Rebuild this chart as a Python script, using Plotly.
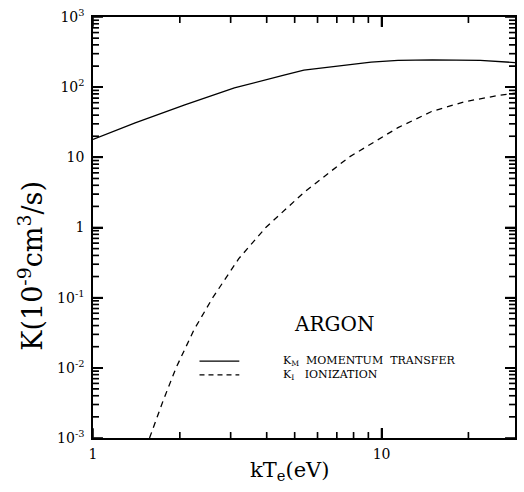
import math
import plotly.graph_objects as go

# Momentum transfer rate coefficient K_M (10^-9 cm^3/s) vs kTe (eV)
km_x = [1.0, 1.4, 2.08, 3.09, 4.59, 5.38, 9.2, 11.4, 15.0, 22.0, 29.0]
km_y = [18, 31, 56, 98, 148, 175, 228, 241, 245, 241, 224]

# Ionization rate coefficient K_I
ki_x = [1.57, 1.75, 1.94, 2.24, 2.60, 3.2, 3.97, 5.4, 7.7, 11.4, 14.9, 19.4, 25.3, 29.0]
ki_y = [0.001, 0.0034, 0.01, 0.035, 0.1, 0.36, 1.0, 3.2, 10, 26.5, 45, 62, 76, 82]

y_tickvals = [1e-3, 1e-2, 1e-1, 1, 10, 100, 1000]
y_ticktext = ["10<sup>-3</sup>", "10<sup>-2</sup>", "10<sup>-1</sup>", "1", "10",
              "10<sup>2</sup>", "10<sup>3</sup>"]
y_minor = [m * 10.0 ** e for e in range(-3, 3) for m in range(2, 10)]
x_tickvals = [1, 10]
x_ticktext = ["1", "10"]
x_minor = [2, 3, 4, 5, 6, 7, 8, 9, 20]

SERIF = "DejaVu Serif"
NB = "\u00a0"
XR = [0, 1.4625]
YR = [-3, 3]

L, R, T, B = 93, 517, 11, 438
W, H = R - L, B - T

fig = go.Figure()
fig.add_trace(go.Scatter(x=km_x, y=km_y, mode="lines", line=dict(color="black", width=1.3),
                         showlegend=False, name="K_M momentum transfer"))
fig.add_trace(go.Scatter(x=ki_x, y=ki_y, mode="lines",
                         line=dict(color="black", width=1.3, dash="6px,5px"),
                         showlegend=False, name="K_I ionization"))

# Inside tick marks on all four sides, built from the axis scales (log decades per pixel)
xmin, xmax = 10 ** XR[0], 10 ** XR[1]
ymin, ymax = 10 ** YR[0], 10 ** YR[1]
ydec_per_px = (YR[1] - YR[0]) / H
xdec_per_px = (XR[1] - XR[0]) / W
tx, ty = [], []
for vals, ln in ((x_tickvals, 10), (x_minor, 6)):
    for v in vals:
        k = 10 ** (ln * ydec_per_px)
        tx += [v, v, None, v, v, None]
        ty += [ymin, ymin * k, None, ymax, ymax / k, None]
for vals, ln in ((y_tickvals, 10), (y_minor, 6)):
    for v in vals:
        k = 10 ** (ln * xdec_per_px)
        tx += [xmin, xmin * k, None, xmax, xmax / k, None]
        ty += [v, v, None, v, v, None]
fig.add_trace(go.Scatter(x=tx, y=ty, mode="lines", line=dict(color="#111111", width=1.7),
                         connectgaps=False, showlegend=False, hoverinfo="skip"))

axis_common = dict(showgrid=False, zeroline=False, showline=True, linecolor="black",
                   linewidth=1.5, mirror="allticks", ticks="inside", ticklen=10,
                   tickwidth=1.5, tickcolor="black", tickmode="array")

fig.update_xaxes(type="log", range=XR, tickvals=x_tickvals, ticktext=x_ticktext,
                 tickfont=dict(family=SERIF, size=14, color="black"),
                 minor=dict(ticks="inside", ticklen=6, tickwidth=1.2, tickcolor="black",
                            tickmode="array", tickvals=x_minor, showgrid=False),
                 ticklabelstandoff=2, **axis_common)
fig.update_yaxes(type="log", range=YR, tickvals=y_tickvals, ticktext=y_ticktext,
                 tickfont=dict(family=SERIF, size=14, color="black"),
                 minor=dict(ticks="inside", ticklen=6, tickwidth=1.2, tickcolor="black",
                            tickmode="array", tickvals=y_minor, showgrid=False),
                 ticklabelstandoff=4, **axis_common)

def px2paper(px, py):
    return (px - L) / W, (B - py) / H

# Axis titles placed as annotations
tx_, ty_ = px2paper(30, 263)
fig.add_annotation(xref="paper", yref="paper", x=tx_, y=ty_, xanchor="center", yanchor="middle",
                   textangle=-90, showarrow=False,
                   text="K(10<sup>-9</sup>cm<sup>3</sup>/s)",
                   font=dict(family=SERIF, size=27, color="black"))
tx_, ty_ = px2paper(290, 471)
fig.add_annotation(xref="paper", yref="paper", x=tx_, y=ty_, xanchor="center", yanchor="middle",
                   showarrow=False, text="kT<sub>e</sub>(eV)",
                   font=dict(family=SERIF, size=21, color="black"))

# Legend drawn manually
x0, y0 = px2paper(200, 360)
x1, _ = px2paper(240, 360)
_, y1 = px2paper(200, 374)
fig.add_shape(type="line", xref="paper", yref="paper", x0=x0, x1=x1, y0=y0, y1=y0,
              line=dict(color="black", width=1.2))
fig.add_shape(type="line", xref="paper", yref="paper", x0=x0, x1=x1, y0=y1, y1=y1,
              line=dict(color="black", width=1.2, dash="5px,4px"))
lx, _ = px2paper(282, 0)
fig.add_annotation(xref="paper", yref="paper", x=lx, y=y0, xanchor="left", yanchor="middle",
                   text="K<sub>M</sub>" + NB * 2 + "MOMENTUM" + NB * 2 + "TRANSFER", showarrow=False,
                   font=dict(family=SERIF, size=11, color="black"))
fig.add_annotation(xref="paper", yref="paper", x=lx, y=y1, xanchor="left", yanchor="middle",
                   text="K<sub>I</sub>" + NB * 3 + "IONIZATION", showarrow=False,
                   font=dict(family=SERIF, size=11, color="black"))
ax, ay = px2paper(335, 322)
fig.add_annotation(xref="paper", yref="paper", x=ax, y=ay, xanchor="center", yanchor="middle",
                   text="ARGON", showarrow=False, font=dict(family=SERIF, size=20, color="black"))

fig.update_layout(width=524, height=492, margin=dict(l=L, r=524 - R, t=T, b=492 - B),
                  paper_bgcolor="white", plot_bgcolor="white",
                  font=dict(family=SERIF, color="black"))

fig.write_html("out.html")
